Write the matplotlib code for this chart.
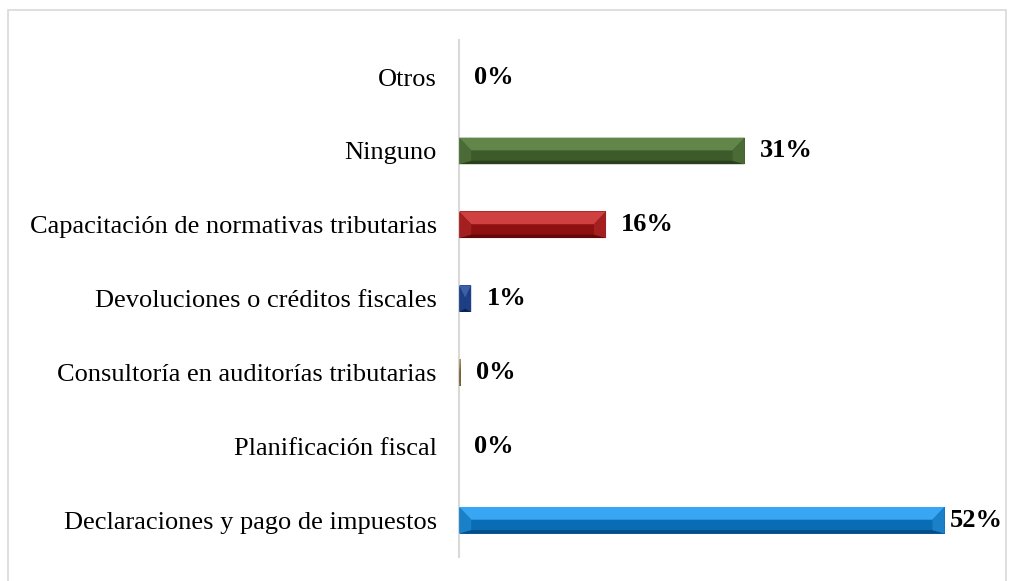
import matplotlib.pyplot as plt
from matplotlib.patches import Polygon, Rectangle

plt.rcParams['font.family'] = ['Liberation Serif', 'DejaVu Serif']

# categories from bottom to top (as drawn)
categories = ['Declaraciones y pago de impuestos', 'Planificación fiscal',
              'Consultoría en auditorías tributarias', 'Devoluciones o créditos fiscales',
              'Capacitación de normativas tributarias', 'Ninguno', 'Otros']
values = [52.2, 0.0, 0.2, 1.3, 15.8, 30.7, 0.0]
labels = ['52%', '0%', '0%', '1%', '16%', '31%', '0%']

# (top bevel, face, bottom bevel, sides)
palette = [
    ('#38a6f2', '#0b6cb6', '#064d85', '#1a80c8'),
    ('#c0c0c0', '#a0a0a0', '#808080', '#909090'),
    ('#b59a5c', '#8a7040', '#5e4a25', '#7a6236'),
    ('#3d5fa8', '#15357a', '#0b2157', '#1f3f85'),
    ('#cf4040', '#8e1010', '#650808', '#a42020'),
    ('#62864a', '#3c5a2a', '#2a401c', '#4b6b36'),
    ('#c0c0c0', '#a0a0a0', '#808080', '#909090'),
]


def draw_bevel_bar(ax, y, w, h, cols):
    top_c, face_c, bot_c, side_c = cols
    ax.barh(y, w, height=h, color=face_c, edgecolor='none', zorder=2)
    d = min(1.3, w / 2)
    t, b = y + h / 2, y - h / 2
    bt, bb = 0.48 * h, 0.13 * h
    ax.add_patch(Polygon([(0, t), (w, t), (w - d, t - bt), (d, t - bt)],
                         closed=True, color=top_c, lw=0, zorder=3))
    ax.add_patch(Polygon([(0, b), (w, b), (w - d, b + bb), (d, b + bb)],
                         closed=True, color=bot_c, lw=0, zorder=3))
    ax.add_patch(Polygon([(w, t), (w, b), (w - d, b + bb), (w - d, t - bt)],
                         closed=True, color=side_c, lw=0, zorder=3))
    ax.add_patch(Polygon([(0, t), (0, b), (d, b + bb), (d, t - bt)],
                         closed=True, color=side_c, lw=0, zorder=3))


fig = plt.figure(figsize=(10.09, 5.81), dpi=100)
ax = fig.add_axes([0.455, 0.041, 0.495, 0.890])

ypos = list(range(len(categories)))
for y, v, c in zip(ypos, values, palette):
    if v > 0:
        draw_bevel_bar(ax, y, v, 0.36, c)

for y, v, lab in zip(ypos, values, labels):
    off = 4 if v > 50 else 11
    ax.annotate(lab, (v, y), xytext=(off, 0), textcoords='offset points',
                ha='left', va='center', fontsize=19, fontweight='bold', color='black')

ax.set_xlim(0, 53.7)
ax.set_ylim(-0.5, 6.5)
ax.set_yticks(ypos)
ax.set_yticklabels(categories, fontsize=19)
ax.tick_params(axis='y', length=0, pad=16)
ax.set_xticks([])
for s in ['top', 'right', 'bottom']:
    ax.spines[s].set_visible(False)
ax.spines['left'].set_color('#d9d9d9')
ax.spines['left'].set_linewidth(1.5)

# light chart-area border
fig.patches.append(Rectangle((8 / 1009, -0.05), 998 / 1009, 1.05 - 10 / 581,
                             transform=fig.transFigure, fill=False,
                             edgecolor='#d9d9d9', lw=1.2))

fig.savefig('out.png', dpi=100)
